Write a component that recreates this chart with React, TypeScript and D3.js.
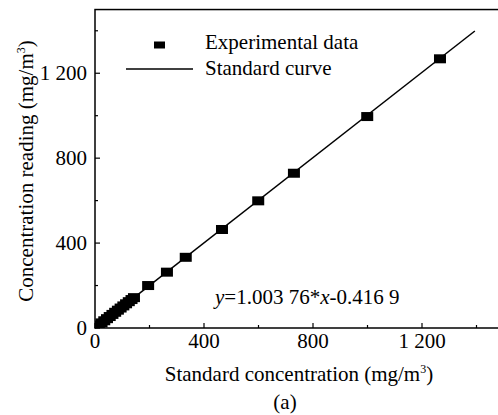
import React from "react";
import * as d3 from "d3";

// Calibration measurements: standard concentration vs. instrument reading (mg/m³)
const standardConc = [4, 14, 24, 34, 44, 54, 64, 74, 84, 94, 104, 114, 124, 134, 143, 195, 264, 333, 466, 599, 730, 999, 1266];
const readingConc = [4, 14, 24, 34, 44, 54, 64, 74, 84, 94, 104, 114, 124, 134, 143, 200, 263, 333, 464, 599, 729, 996, 1268];

// Linear fit y = a*x + b
const slope = 1.00376;
const intercept = -0.4169;
const fitRange = [0, 1394];

const majorTicks = [0, 400, 800, 1200];
const minorTicks = [200, 600, 1000, 1400];
const tickLabels = ["0", "400", "800", "1 200"];

const W = 498;
const H = 415;
const margin = { left: 95, top: 11, right: 0, bottom: 87 };

export default function App() {
  const x = d3.scaleLinear().domain([0, 1500]).range([margin.left, margin.left + 1500 * 0.2725]);
  const y = d3.scaleLinear().domain([0, 1500]).range([H - margin.bottom, H - margin.bottom - 1500 * 0.2123]);

  const line = d3
    .line<number>()
    .x((d) => x(d))
    .y((d) => y(slope * d + intercept));

  const font = "'Liberation Serif', 'Times New Roman', serif";
  const fs = 21;
  const x0 = x(0);
  const y0 = y(0);
  const yTop = y(1500);
  const xRight = x(1500);

  return (
    <svg width={W} height={H} style={{ position: "absolute", left: 0, top: 0 }} fontFamily={font}>
      <rect width={W} height={H} fill="#fff" />
      <defs>
        <clipPath id="plotArea">
          <rect x={x0} y={yTop} width={xRight - x0} height={y0 - yTop} />
        </clipPath>
      </defs>

      {/* fitted line */}
      <path d={line(fitRange) || ""} fill="none" stroke="#000" strokeWidth={1.5} />

      {/* data markers */}
      <g clipPath="url(#plotArea)">
        {standardConc.map((v, i) => (
          <rect key={"p" + i} x={x(v) - 6} y={y(readingConc[i]) - 4.5} width={12} height={9} fill="#000" />
        ))}
      </g>

      {/* frame */}
      <rect x={x0} y={yTop} width={xRight - x0} height={y0 - yTop} fill="none" stroke="#000" strokeWidth={1.5} />

      {/* x ticks */}
      {majorTicks.map((t, i) => (
        <g key={"xt" + t}>
          <line x1={x(t)} x2={x(t)} y1={y0} y2={y0 - 5} stroke="#000" strokeWidth={1.2} />
          <text x={x(t)} y={y0 + 20} fontSize={fs} textAnchor="middle">{tickLabels[i]}</text>
        </g>
      ))}
      {minorTicks.map((t) => (
        <line key={"xm" + t} x1={x(t)} x2={x(t)} y1={y0} y2={y0 - 3} stroke="#000" strokeWidth={1.2} />
      ))}

      {/* y ticks */}
      {majorTicks.map((t, i) => (
        <g key={"yt" + t}>
          <line x1={x0} x2={x0 + 5} y1={y(t)} y2={y(t)} stroke="#000" strokeWidth={1.2} />
          <text x={x0 - 8} y={y(t) + 7} fontSize={fs} textAnchor="end">{tickLabels[i]}</text>
        </g>
      ))}
      {minorTicks.map((t) => (
        <line key={"ym" + t} x1={x0} x2={x0 + 3} y1={y(t)} y2={y(t)} stroke="#000" strokeWidth={1.2} />
      ))}

      {/* legend */}
      <rect x={154} y={41.5} width={11} height={7} fill="#000" />
      <text x={205} y={49} fontSize={fs}>Experimental data</text>
      <line x1={126} x2={193} y1={69} y2={69} stroke="#000" strokeWidth={1.5} />
      <text x={205} y={75} fontSize={fs}>Standard curve</text>

      {/* equation */}
      <text x={215} y={304} fontSize={fs}>
        <tspan fontStyle="italic">y</tspan>=1.003 76*<tspan fontStyle="italic">x</tspan>-0.416 9
      </text>

      {/* axis titles */}
      <text x={299} y={381} fontSize={fs} textAnchor="middle">
        Standard concentration (mg/m<tspan fontSize={12} dy={-8}>3</tspan><tspan dy={8}>)</tspan>
      </text>
      <text transform={`translate(33,171) rotate(-90)`} fontSize={fs} textAnchor="middle">
        Concentration reading (mg/m<tspan fontSize={12} dy={-8}>3</tspan><tspan dy={8}>)</tspan>
      </text>
      <text x={285} y={409} fontSize={fs} textAnchor="middle">(a)</text>
    </svg>
  );
}
